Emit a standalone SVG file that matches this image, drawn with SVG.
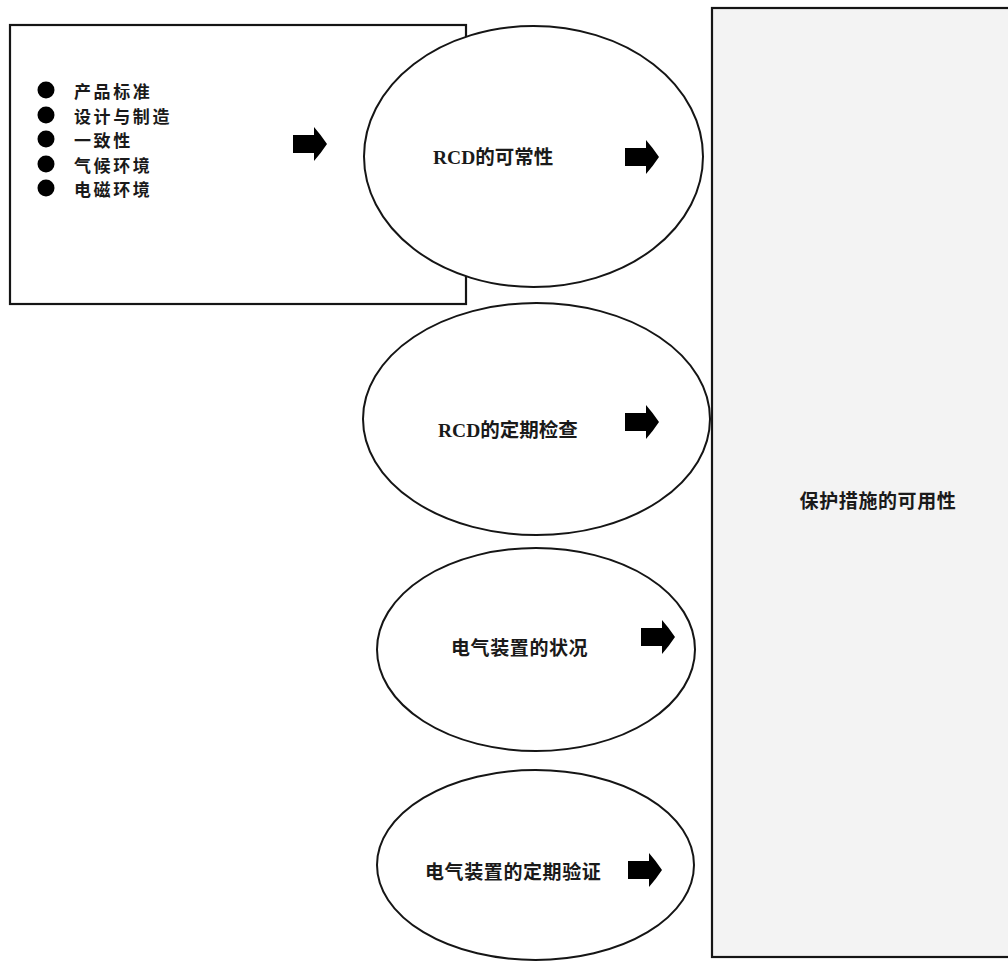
<svg xmlns="http://www.w3.org/2000/svg" xmlns:xlink="http://www.w3.org/1999/xlink" width="1008" height="964" viewBox="0 0 1008 964">
<style>
.box{fill:#fff;stroke:#151515;stroke-width:2.2}
.ell{fill:#fff;stroke:#151515;stroke-width:2}
.panel{fill:#f3f3f3;stroke:#151515;stroke-width:2.2}
.t{font-family:"Liberation Serif","Noto Sans CJK SC",serif;font-size:19.5px;fill:#1a1a1a;font-weight:bold;dominant-baseline:central}
.c{font-family:"Noto Sans CJK SC","Liberation Sans",sans-serif;font-size:19px;fill:#1a1a1a;font-weight:bold;dominant-baseline:central;letter-spacing:0.6px}
.li{font-family:"Noto Sans CJK SC","Liberation Sans",sans-serif;font-size:17px;fill:#1a1a1a;font-weight:bold;dominant-baseline:central;letter-spacing:2.6px}
.dot{fill:#000}
.arr{fill:#000}
</style>
<defs>
<path id="arrow" class="arr" d="M-34,-9 H-13 V-17 Q-6,-9 0,0 Q-6,9 -13,17 V9 H-34 Z"/>
</defs>
<rect width="1008" height="964" fill="#fff"/>
<g id="factors">
<rect class="box" x="10" y="25" width="456" height="279"/>
<circle class="dot" cx="46" cy="90" r="8.5"/>
<circle class="dot" cx="46" cy="115" r="8.5"/>
<circle class="dot" cx="46" cy="139" r="8.5"/>
<circle class="dot" cx="46" cy="164" r="8.5"/>
<circle class="dot" cx="46" cy="188" r="8.5"/>
<text class="li" x="74" y="90">产品标准</text>
<text class="li" x="74" y="115">设计与制造</text>
<text class="li" x="74" y="139">一致性</text>
<text class="li" x="74" y="164">气候环境</text>
<text class="li" x="74" y="188">电磁环境</text>
</g>
<g id="availability">
<rect class="panel" x="712" y="8" width="310" height="949"/>
<text class="c" x="878" y="499" text-anchor="middle">保护措施的可用性</text>
</g>
<g id="rcd-reliability">
<ellipse class="ell" cx="533.5" cy="156.5" rx="169.5" ry="130.5"/>
<text class="t" x="433" y="157">RCD的可常性</text>
</g>
<g id="rcd-inspection">
<ellipse class="ell" cx="536.5" cy="419" rx="173.5" ry="116"/>
<text class="t" x="438" y="430">RCD的定期检查</text>
</g>
<g id="installation-condition">
<ellipse class="ell" cx="536" cy="649.5" rx="159" ry="101.5"/>
<text class="c" x="451" y="646">电气装置的状况</text>
</g>
<g id="installation-verification">
<ellipse class="ell" cx="535.5" cy="865" rx="158.5" ry="95"/>
<text class="c" x="425" y="870">电气装置的定期验证</text>
</g>
<g id="connectors">
<use xlink:href="#arrow" href="#arrow" transform="translate(327,144)"/>
<use xlink:href="#arrow" href="#arrow" transform="translate(659,157)"/>
<use xlink:href="#arrow" href="#arrow" transform="translate(659,422)"/>
<use xlink:href="#arrow" href="#arrow" transform="translate(675,637)"/>
<use xlink:href="#arrow" href="#arrow" transform="translate(662,870)"/>
</g>
</svg>
